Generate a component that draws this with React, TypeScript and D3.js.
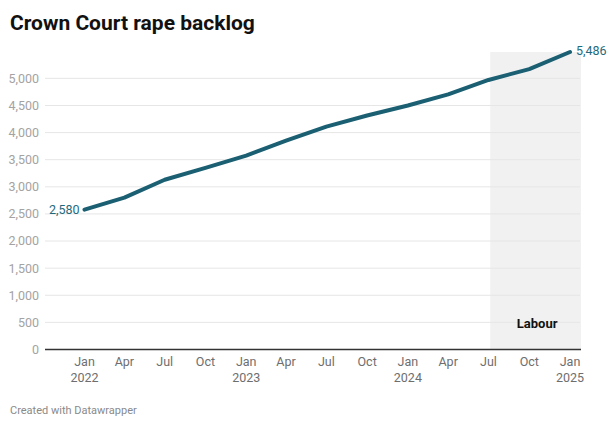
import { useRef, useEffect } from "react";
import * as d3 from "d3";

const WIDTH = 615;
const HEIGHT = 427;

// quarterly backlog figures
const dates = [
  "2022-01", "2022-04", "2022-07", "2022-10",
  "2023-01", "2023-04", "2023-07", "2023-10",
  "2024-01", "2024-04", "2024-07", "2024-10",
  "2025-01",
];
const backlog = [2580, 2800, 3130, 3350, 3575, 3850, 4110, 4315, 4500, 4705, 4970, 5170, 5486];

const yTicks = [0, 500, 1000, 1500, 2000, 2500, 3000, 3500, 4000, 4500, 5000];
const labourStart = "2024-07-05";
const labourLabel = "Labour";

const LINE = "#1b5f73";
const LABEL = "#1e6a7c";

export default function App() {
  const svgRef = useRef<SVGSVGElement>(null);

  useEffect(() => {
    if (!svgRef.current) return;
    const svg = d3.select(svgRef.current);
    svg.selectAll("*").remove();

    const parse = d3.timeParse("%Y-%m");
    const points = dates.map((d, i) => ({ date: parse(d)!, value: backlog[i] }));

    const plotLeft = 45;
    const plotRight = 580;
    const x = d3
      .scaleTime()
      .domain([parse("2022-01")!, parse("2025-01")!])
      .range([84.5, 570]);
    const y = d3.scaleLinear().domain([0, 5486]).range([349.5, 52]);

    const font = "Roboto, 'Noto Sans', sans-serif";

    // Title
    svg
      .append("text")
      .attr("x", 10)
      .attr("y", 30)
      .attr("font-family", font)
      .attr("font-size", "21px")
      .attr("font-weight", "bold")
      .attr("fill", "#111")
      .text("Crown Court rape backlog");

    // Labour shaded period
    const shadeX = x(d3.timeParse("%Y-%m-%d")(labourStart)!);
    svg
      .append("rect")
      .attr("x", shadeX)
      .attr("y", y(5486))
      .attr("width", plotRight + 1 - shadeX)
      .attr("height", y(0) - y(5486))
      .attr("fill", "#f1f1f2");

    // Gridlines + y labels
    const grid = svg.append("g");
    yTicks.forEach((t) => {
      if (t > 0) {
        grid
          .append("line")
          .attr("x1", plotLeft)
          .attr("x2", plotRight)
          .attr("y1", y(t))
          .attr("y2", y(t))
          .attr("stroke", "#e6e6e6")
          .attr("stroke-width", 1);
      }
      grid
        .append("text")
        .attr("x", 39)
        .attr("y", y(t))
        .attr("dy", "0.35em")
        .attr("text-anchor", "end")
        .attr("font-family", font)
        .attr("font-size", "12.5px")
        .attr("fill", "#a3a3a3")
        .text(d3.format(",")(t));
    });

    svg
      .append("text")
      .attr("x", (shadeX + plotRight) / 2 + 2)
      .attr("y", 328)
      .attr("text-anchor", "middle")
      .attr("font-family", font)
      .attr("font-size", "13px")
      .attr("font-weight", "bold")
      .attr("fill", "#111")
      .text(labourLabel);

    // Baseline
    svg
      .append("line")
      .attr("x1", plotLeft)
      .attr("x2", plotRight + 1)
      .attr("y1", y(0))
      .attr("y2", y(0))
      .attr("stroke", "#333")
      .attr("stroke-width", 1.5);

    // X axis labels
    const xTicks = d3.timeMonth.every(3)!.range(parse("2022-01")!, parse("2025-02")!);
    const xAxis = svg.append("g");
    xTicks.forEach((d) => {
      xAxis
        .append("text")
        .attr("x", x(d))
        .attr("y", 366)
        .attr("text-anchor", "middle")
        .attr("font-family", font)
        .attr("font-size", "12.5px")
        .attr("fill", "#6e6e6e")
        .text(d3.timeFormat("%b")(d));
      if (d.getMonth() === 0) {
        xAxis
          .append("text")
          .attr("x", x(d))
          .attr("y", 382)
          .attr("text-anchor", "middle")
          .attr("font-family", font)
          .attr("font-size", "12.5px")
          .attr("fill", "#6e6e6e")
          .text(d3.timeFormat("%Y")(d));
      }
    });

    // Line
    const line = d3
      .line<{ date: Date; value: number }>()
      .x((d) => x(d.date))
      .y((d) => y(d.value));

    svg
      .append("path")
      .datum(points)
      .attr("d", line)
      .attr("fill", "none")
      .attr("stroke", LINE)
      .attr("stroke-width", 4)
      .attr("stroke-linejoin", "round")
      .attr("stroke-linecap", "round");

    // End labels
    const first = points[0];
    const last = points[points.length - 1];
    svg
      .append("text")
      .attr("x", x(first.date) - 5)
      .attr("y", y(first.value))
      .attr("dy", "0.35em")
      .attr("text-anchor", "end")
      .attr("font-family", font)
      .attr("font-size", "12.5px")
      .attr("fill", LABEL)
      .text(d3.format(",")(first.value));

    svg
      .append("text")
      .attr("x", x(last.date) + 6)
      .attr("y", y(last.value) - 1)
      .attr("dy", "0.35em")
      .attr("font-family", font)
      .attr("font-size", "12.5px")
      .attr("fill", LABEL)
      .text(d3.format(",")(last.value));

    // Footer
    svg
      .append("text")
      .attr("x", 10)
      .attr("y", 414)
      .attr("font-family", font)
      .attr("font-size", "11px")
      .attr("fill", "#8a8a8a")
      .text("Created with Datawrapper");
  }, []);

  return (
    <svg
      ref={svgRef}
      width={WIDTH}
      height={HEIGHT}
      style={{ position: "absolute", left: 0, top: 0, background: "#fff" }}
    />
  );
}
